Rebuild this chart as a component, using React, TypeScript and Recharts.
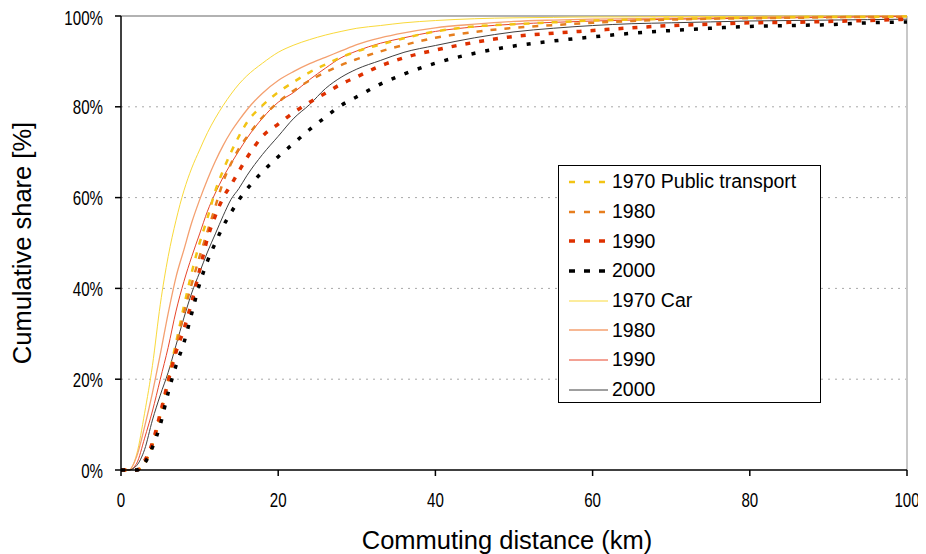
import React from "react";
import {
  LineChart,
  Line,
  XAxis,
  YAxis,
  CartesianGrid,
  ReferenceLine,
  Legend,
  Label,
} from "recharts";

// commuting distance in km (x values shared by all series)
const distanceKm = [0, 1, 2, 3, 4, 5, 6, 7, 8, 9, 10, 11, 12, 13, 14, 15, 16, 18, 20, 22, 24, 26, 28, 30, 33, 36, 40, 45, 50, 55, 60, 65, 70, 75, 80, 85, 90, 95, 100];

// cumulative share [%], public transport
const pt1970 = [0, 0, 0, 1.5, 5.5, 12, 20, 28, 36, 43.5, 50, 55.5, 61.5, 66, 70, 73.5, 76.5, 80.3, 83.2, 85.5, 87.6, 89.3, 90.9, 92.2, 93.7, 95.1, 96.6, 97.7, 98.2, 98.6, 99, 99.2, 99.4, 99.5, 99.6, 99.7, 99.8, 99.8, 99.9];
const pt1980 = [0, 0, 0, 1.5, 5.5, 12, 19.5, 27, 34.5, 41, 47, 52.5, 58, 63.5, 67.5, 70.8, 73.3, 77.7, 81, 83.6, 85.8, 87.6, 89.2, 90.5, 92.2, 93.6, 95.2, 96.5, 97.4, 98, 98.5, 98.9, 99.2, 99.4, 99.5, 99.6, 99.7, 99.8, 99.8];
const pt1990 = [0, 0, 0, 2, 6, 12.5, 19.5, 26, 31, 37, 44, 51, 56, 60, 62.8, 65.8, 68.7, 73.5, 76.2, 78.8, 81, 83, 85, 86.6, 89, 90.8, 92.5, 94.2, 95.5, 96.2, 96.8, 97.4, 97.9, 98.2, 98.5, 98.6, 98.8, 99, 99.3];
const pt2000 = [0, 0, 0, 1.5, 5, 10, 17, 23, 28, 34.5, 41, 46, 50, 53.7, 56.7, 59.5, 61.8, 65.7, 69, 72, 75, 77.7, 80.3, 82.2, 85, 87.2, 89.6, 91.8, 93.4, 94.5, 95.4, 96.2, 96.8, 97.3, 97.7, 97.9, 98.1, 98.5, 98.7];

// cumulative share [%], car
const car1970 = [0, 0, 3.5, 12.5, 23, 36.5, 47, 55, 61.5, 66.5, 70.5, 74.3, 77.5, 80.3, 82.8, 85, 86.8, 89.6, 92, 93.6, 94.8, 95.8, 96.6, 97.3, 97.9, 98.5, 99, 99.4, 99.6, 99.7, 99.8, 99.8, 99.9, 99.9, 99.9, 100, 100, 100, 100];
const car1980 = [0, 0, 3, 9.5, 17, 25.5, 34.5, 42.5, 48.5, 54.5, 59.5, 64, 68, 71.5, 74.5, 77, 79.3, 83, 85.8, 87.8, 89.5, 90.9, 92.3, 93.7, 95.2, 96.3, 97.4, 98.2, 98.8, 99.1, 99.3, 99.4, 99.5, 99.6, 99.7, 99.8, 99.8, 99.9, 100];
const car1990 = [0, 0, 1.5, 7, 13, 20, 27, 35, 41.5, 47, 52, 57, 61, 64.5, 67.5, 70.3, 73, 77.5, 81, 83.2, 86, 88.5, 90.8, 92.3, 94, 95.2, 96.6, 97.6, 98.2, 98.6, 98.9, 99.1, 99.3, 99.4, 99.5, 99.6, 99.7, 99.8, 99.9];
const car2000 = [0, 0, 1, 4.5, 11, 16.5, 21.5, 27.5, 33.5, 39, 43.5, 48, 52, 56, 59.6, 62, 64.8, 69.5, 73.5, 77.5, 80.5, 84, 86.5, 88.3, 90.2, 92, 93.5, 95.2, 96.5, 97.3, 97.9, 98.3, 98.5, 98.7, 98.9, 99, 99.1, 99.2, 99.3];

const xTicks = [0, 20, 40, 60, 80, 100];
const yTicks = [0, 20, 40, 60, 80, 100];

const data = distanceKm.map((km, i) => ({
  km,
  pt1970: pt1970[i],
  pt1980: pt1980[i],
  pt1990: pt1990[i],
  pt2000: pt2000[i],
  car1970: car1970[i],
  car1980: car1980[i],
  car1990: car1990[i],
  car2000: car2000[i],
}));

const series = [
  { key: "pt1970", name: "1970 Public transport", color: "#F2C414", width: 2.5, dash: "6 8" },
  { key: "pt1980", name: "1980", color: "#E67E1E", width: 2.5, dash: "6 8" },
  { key: "pt1990", name: "1990", color: "#DE3000", width: 3.5, dash: "5 9" },
  { key: "pt2000", name: "2000", color: "#000000", width: 3.5, dash: "4 10" },
  { key: "car1970", name: "1970 Car", color: "#F9D93A", width: 1 },
  { key: "car1980", name: "1980", color: "#F4A070", width: 1.3 },
  { key: "car1990", name: "1990", color: "#E8452A", width: 1 },
  { key: "car2000", name: "2000", color: "#404040", width: 1 },
];

const font = "'Liberation Sans', Arial, sans-serif";

// axis text in the original is a narrow face, squeeze it a bit
function XTick({ x, y, payload }: any) {
  return (
    <g transform={`translate(${x},${y + 29}) scale(0.72,1)`}>
      <text textAnchor="middle" fontSize={21} fill="#000" fontFamily={font}>
        {payload.value}
      </text>
    </g>
  );
}

function YTick({ x, y, payload }: any) {
  return (
    <g transform={`translate(${x - 10},${y + 7.5}) scale(0.72,1)`}>
      <text textAnchor="end" fontSize={21} fill="#000" fontFamily={font}>
        {payload.value}%
      </text>
    </g>
  );
}

function LegendBox() {
  return (
    <div
      style={{
        width: 261,
        height: 236,
        border: "1px solid #000",
        background: "#fff",
        fontFamily: font,
        fontSize: 19.5,
        color: "#000",
        boxSizing: "content-box",
      }}
    >
      {series.map((s) => (
        <div key={s.key} style={{ height: 29.7, display: "flex", alignItems: "center", marginTop: s.key === "pt1970" ? 1 : 0 }}>
          <svg width={53} height={12} style={{ flex: "none" }}>
            <line
              x1={10}
              x2={49}
              y1={6}
              y2={6}
              stroke={s.color}
              strokeWidth={s.width}
              strokeDasharray={s.dash ? "6 9" : undefined}
            />
          </svg>
          <span style={{ whiteSpace: "nowrap" }}>{s.name}</span>
        </div>
      ))}
    </div>
  );
}

export default function App() {
  return (
    <div style={{ width: 918, height: 546, fontFamily: font }}>
      <LineChart
        width={918}
        height={546}
        data={data}
        margin={{ top: 8, right: 19, left: 0, bottom: 0 }}
        style={{ overflow: "visible" }}
      >
        <CartesianGrid
          vertical={false}
          horizontalValues={[20, 40, 60, 80]}
          stroke="#a8a8a8"
          strokeDasharray="2 5"
        />
        <ReferenceLine y={100} stroke="#999999" strokeWidth={1.5} />
        <ReferenceLine x={100} stroke="#c8c8c8" strokeWidth={2} />
        <XAxis
          dataKey="km"
          type="number"
          domain={[0, 100]}
          ticks={xTicks}
          height={84}
          tickSize={6}
          stroke="#000"
          strokeWidth={1.5}
          tick={<XTick />}
        >
          <Label value="Commuting distance (km)" position="center" dx={-7} dy={28} style={{ fontSize: 25.5, fill: "#000" }} />
        </XAxis>
        <YAxis
          type="number"
          domain={[0, 100]}
          ticks={yTicks}
          width={113}
          tickSize={6}
          stroke="#000"
          strokeWidth={1.5}
          tick={<YTick />}
        >
          <Label value="Cumulative share [%]" angle={-90} position="center" dx={-43} style={{ fontSize: 25.5, fill: "#000" }} />
        </YAxis>
        <Legend
          layout="horizontal"
          verticalAlign="middle"
          align="center"
          content={() => <LegendBox />}
          wrapperStyle={{ position: "absolute", left: 550, top: 157, width: 263, height: 238 }}
        />
        {series
          .filter((s) => !s.dash)
          .map((s) => (
            <Line
              key={s.key}
              type="monotone"
              dataKey={s.key}
              name={s.name}
              stroke={s.color}
              strokeWidth={s.width}
              dot={false}
              activeDot={false}
              isAnimationActive={false}
            />
          ))}
        {series
          .filter((s) => s.dash)
          .map((s) => (
            <Line
              key={s.key}
              type="monotone"
              dataKey={s.key}
              name={s.name}
              stroke={s.color}
              strokeWidth={s.width}
              strokeDasharray={s.dash}
              dot={false}
              activeDot={false}
              isAnimationActive={false}
            />
          ))}
      </LineChart>
    </div>
  );
}
